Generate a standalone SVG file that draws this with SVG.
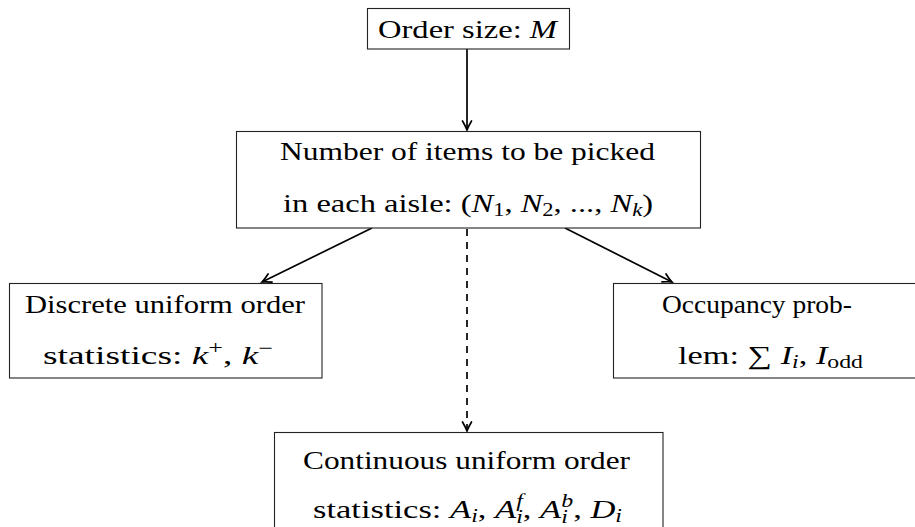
<svg xmlns="http://www.w3.org/2000/svg" width="915" height="527" viewBox="0 0 915 527">
<defs>
<style>
.box{fill:#fff;stroke:#222;stroke-width:1.1}
text{font-family:"Liberation Serif","DejaVu Serif",serif;font-size:26px;fill:#000}
.m{font-style:italic}
.s{font-size:18px}
.edge{stroke:#000;stroke-width:1.7;fill:none}
.dash{stroke-dasharray:7,6}
</style>
<marker id="ah" markerWidth="14" markerHeight="14" refX="11" refY="7" orient="auto" markerUnits="userSpaceOnUse">
<path d="M2,2.5 Q7,5.5 11,7 Q7,8.5 2,11.5" fill="none" stroke="#000" stroke-width="1.7" stroke-linecap="round"/>
</marker>
</defs>
<rect width="915" height="527" fill="#fff"/>
<g id="connectors">
<line class="edge" x1="467" y1="49" x2="467" y2="130" marker-end="url(#ah)"/>
<line class="edge" x1="372" y1="228" x2="262" y2="282" marker-end="url(#ah)"/>
<line class="edge" x1="565" y1="228" x2="672" y2="282" marker-end="url(#ah)"/>
<line class="edge dash" x1="467" y1="229" x2="467" y2="431" marker-end="url(#ah)"/>
</g>
<g id="order">
<rect class="box" x="367.5" y="8.5" width="202" height="40.5"/>
<text x="378" y="38" textLength="179" lengthAdjust="spacingAndGlyphs">Order size: <tspan class="m">M</tspan></text>
</g>
<g id="items">
<rect class="box" x="236.5" y="131.5" width="464" height="96.5"/>
<text x="280" y="160" textLength="375" lengthAdjust="spacingAndGlyphs">Number of items to be picked</text>
<text x="283" y="212" textLength="370" lengthAdjust="spacingAndGlyphs">in each aisle: (<tspan class="m">N</tspan><tspan class="s" dy="4">1</tspan><tspan dy="-4">, </tspan><tspan class="m">N</tspan><tspan class="s" dy="4">2</tspan><tspan dy="-4">, ..., </tspan><tspan class="m">N</tspan><tspan class="s m" dy="4">k</tspan><tspan dy="-4">)</tspan></text>
</g>
<g id="discrete">
<rect class="box" x="9.5" y="283.5" width="312.5" height="94.5"/>
<text x="25" y="313" textLength="280" lengthAdjust="spacingAndGlyphs">Discrete uniform order</text>
<text x="43" y="364" textLength="230" lengthAdjust="spacingAndGlyphs">statistics: <tspan class="m">k</tspan><tspan class="s" dy="-10">+</tspan><tspan dy="10">, </tspan><tspan class="m">k</tspan><tspan class="s" dy="-10">−</tspan></text>
</g>
<g id="occupancy">
<rect class="box" x="613.5" y="283.5" width="310" height="94.5"/>
<text x="662" y="313" textLength="190" lengthAdjust="spacingAndGlyphs">Occupancy prob-</text>
<text x="678" y="364" textLength="185" lengthAdjust="spacingAndGlyphs">lem: ∑ <tspan class="m">I</tspan><tspan class="s m" dy="4">i</tspan><tspan dy="-4">, </tspan><tspan class="m">I</tspan><tspan class="s" dy="4">odd</tspan></text>
</g>
<g id="continuous">
<rect class="box" x="274.5" y="432.5" width="388.5" height="110"/>
<text x="303" y="469" textLength="327" lengthAdjust="spacingAndGlyphs">Continuous uniform order</text>
<text x="313" y="518" textLength="309" lengthAdjust="spacingAndGlyphs">statistics: <tspan class="m">A</tspan><tspan class="s m" dy="4">i</tspan><tspan dy="-4">, </tspan><tspan class="m">A</tspan><tspan class="s m" dy="-11">f</tspan><tspan class="s m" dx="-5" dy="16">i</tspan><tspan dy="-5">, </tspan><tspan class="m">A</tspan><tspan class="s m" dy="-11">b</tspan><tspan class="s m" dx="-9" dy="16">i</tspan><tspan dx="4" dy="-5">, </tspan><tspan class="m">D</tspan><tspan class="s m" dy="4">i</tspan></text>
</g>
</svg>
